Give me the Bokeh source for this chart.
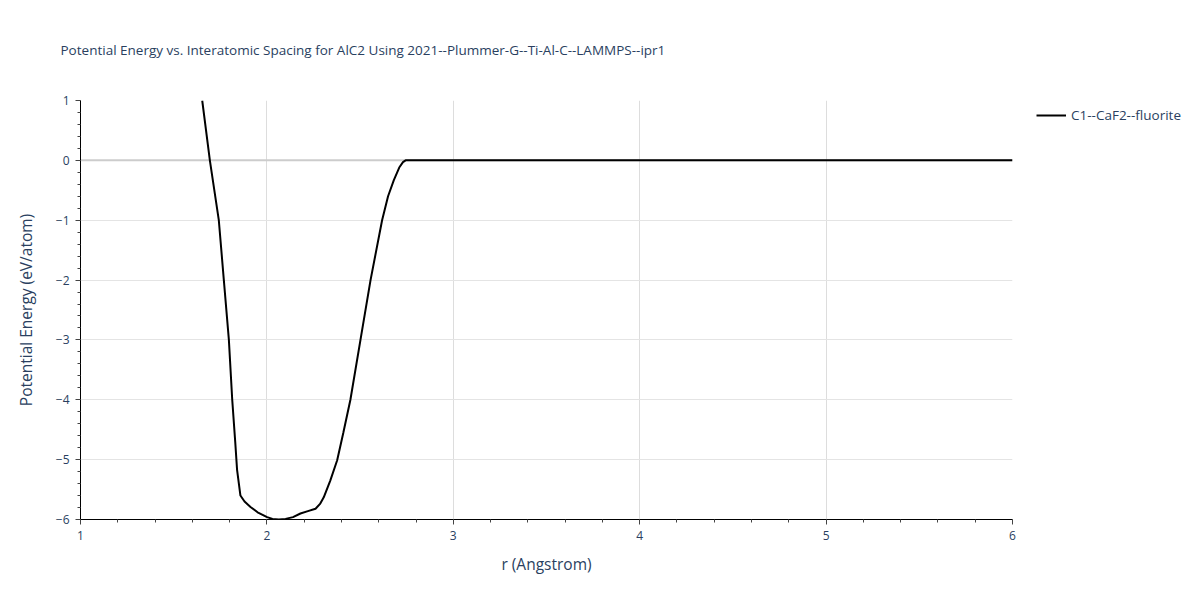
from bokeh.plotting import figure
from bokeh.models import Legend, LegendItem, FixedTicker, Span
from bokeh.embed import file_html
from bokeh.resources import INLINE

# Data
r = [1.653, 1.694, 1.742, 1.769, 1.796, 1.814, 1.830, 1.840, 1.858, 1.880, 1.912,
     1.950, 2.001, 2.030, 2.064, 2.100, 2.140, 2.180, 2.220, 2.261, 2.285, 2.305,
     2.340, 2.377, 2.410, 2.448, 2.502, 2.556, 2.618, 2.650, 2.681, 2.710, 2.730,
     2.744, 2.800, 6.000]
energy = [1.0, 0.0, -1.0, -2.0, -3.0, -4.0, -4.7, -5.17, -5.6, -5.7, -5.79,
          -5.88, -5.96, -5.99, -6.0, -5.99, -5.96, -5.9, -5.86, -5.82, -5.74, -5.63,
          -5.35, -5.01, -4.55, -4.0, -3.0, -2.0, -1.0, -0.6, -0.33, -0.12, -0.03,
          0.0, 0.0, 0.0]
series_name = "C1--CaF2--fluorite"
title_text = "Potential Energy vs. Interatomic Spacing for AlC2 Using 2021--Plummer-G--Ti-Al-C--LAMMPS--ipr1"
x_ticks = [1, 2, 3, 4, 5, 6]
y_ticks = [-6, -5, -4, -3, -2, -1, 0, 1]

FONT = "Open Sans"
TXT = "#2a3f5f"

p = figure(frame_width=932, frame_height=419, x_range=(1, 6), y_range=(-6, 1),
           output_backend="svg", toolbar_location=None,
           min_border_left=80, min_border_right=180, min_border_top=100,
           min_border_bottom=73)
p.outline_line_color = None
p.background_fill_color = "white"

p.title.text = title_text
p.title.text_font = FONT
p.title.text_font_size = "13.5px"
p.title.text_font_style = "normal"
p.title.text_color = TXT
p.title.align = "left"
p.title.vertical_align = "top"
p.title.offset = -20
p.title.standoff = 80

# Axes
for ax in (p.xaxis[0], p.yaxis[0]):
    ax.axis_line_color = "black"
    ax.axis_line_width = 1
    ax.major_tick_line_color = "#444"
    ax.minor_tick_line_color = "#444"
    ax.major_tick_out = 5
    ax.major_tick_in = 0
    ax.minor_tick_out = 3
    ax.minor_tick_in = 0
    ax.major_label_text_font = FONT
    ax.major_label_text_font_size = "12px"
    ax.major_label_text_color = TXT
    ax.axis_label_text_font = FONT
    ax.axis_label_text_font_size = "15.5px"
    ax.axis_label_text_font_style = "normal"
    ax.axis_label_text_color = TXT

p.xaxis.ticker = FixedTicker(ticks=x_ticks, minor_ticks=[1 + 0.2 * i for i in range(26)])
p.yaxis.ticker = FixedTicker(ticks=y_ticks, minor_ticks=[-6 + 0.2 * i for i in range(36)])
p.xaxis.major_label_standoff = 6
p.yaxis.major_label_standoff = 6
p.xaxis.axis_label = "r (Angstrom)"
p.yaxis.axis_label = "Potential Energy (eV/atom)"
p.xaxis.axis_label_standoff = 10
p.yaxis.axis_label_standoff = 16
p.yaxis.major_label_overrides = {v: ("\u2212" + str(abs(v)) if v < 0 else str(v)) for v in y_ticks}

# Grids
p.xgrid.ticker = FixedTicker(ticks=[2, 3, 4, 5])
p.ygrid.ticker = FixedTicker(ticks=[-5, -4, -3, -2, -1])
p.xgrid.grid_line_color = "#dddddd"
p.ygrid.grid_line_color = "#e4e4e4"
p.xgrid.grid_line_width = 1
p.ygrid.grid_line_width = 1
zero = Span(location=0, dimension="width", line_color="#cccccc", line_width=2, level="underlay")
p.add_layout(zero)

line = p.line(r, energy, line_color="black", line_width=2)

legend = Legend(items=[LegendItem(label=series_name, renderers=[line])],
                location=(24, 394), margin=0, padding=5,
                glyph_width=30, glyph_height=20, label_standoff=5,
                label_text_font=FONT, label_text_font_size="13.5px",
                label_text_color=TXT, border_line_color=None,
                background_fill_alpha=0)
p.add_layout(legend, "right")

open("out.html", "w").write(file_html(p, INLINE))
